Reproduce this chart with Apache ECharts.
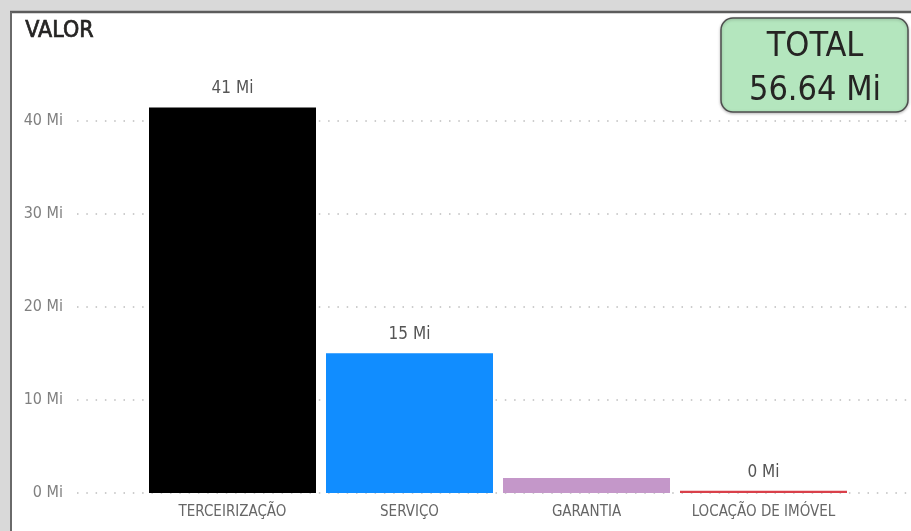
<!DOCTYPE html>
<html>
<head>
<meta charset="utf-8">
<script src="https://cdn.jsdelivr.net/npm/echarts@6/dist/echarts.min.js"></script>
<style>
  html, body { margin: 0; padding: 0; background: #d9d9d9; }
  #chart { width: 911px; height: 531px; }
</style>
</head>
<body>
<div id="chart"></div>
<script>
// Values in millions (Mi)
const categories = ['TERCEIRIZAÇÃO', 'SERVIÇO', 'GARANTIA', 'LOCAÇÃO DE IMÓVEL'];
const values = [41.4, 15.0, 1.6, 0.25];
const barColors = ['#000000', '#118DFF', '#C497C9', '#D9404A'];
const labelShown = [true, true, false, true];
const yTicks = [0, 10, 20, 30, 40];
const chartTitle = 'VALOR';
const totalCaption = 'TOTAL';
const totalText = '56.64 Mi';

const COND = '"DejaVu Sans Condensed", "DejaVu Sans", sans-serif';
const yMin = yTicks[0];
const yMax = yTicks[yTicks.length - 1];
const yStep = yTicks[1] - yTicks[0];

const chart = echarts.init(document.getElementById('chart'), null, { renderer: 'canvas' });

const gridTop = 120.5;
const gridBottom = 38;

const option = {
  backgroundColor: 'transparent',
  animation: false,
  grid: [
    // full-width grid carrying the value labels and dotted guide lines
    { left: 77, right: 0, top: gridTop, bottom: gridBottom, containLabel: false },
    // inner grid holding the category bars
    { left: 144, right: 59, top: gridTop, bottom: gridBottom, containLabel: false }
  ],
  xAxis: [
    { type: 'category', gridIndex: 0, data: [''], show: false },
    {
      type: 'category', gridIndex: 1, data: categories,
      axisLine: { show: false }, axisTick: { show: false },
      axisLabel: { color: '#666666', fontSize: 15, fontFamily: COND, margin: 12, interval: 0 }
    }
  ],
  yAxis: [
    {
      type: 'value', gridIndex: 0, min: yMin, max: yMax, interval: yStep,
      axisLine: { show: false }, axisTick: { show: false },
      axisLabel: {
        color: '#808080', fontSize: 16, fontFamily: COND, margin: 14,
        formatter: v => v + ' Mi'
      },
      splitLine: { show: true, lineStyle: { color: '#bdbdbd', width: 1.5, type: [1.5, 7.8] } }
    },
    {
      type: 'value', gridIndex: 1, min: yMin, max: yMax, interval: yStep,
      show: false, splitLine: { show: false }
    }
  ],
  series: [{
    type: 'bar',
    xAxisIndex: 1,
    yAxisIndex: 1,
    barWidth: 167,
    clip: false,
    data: values.map((v, i) => ({
      value: v,
      itemStyle: { color: barColors[i] },
      label: { show: labelShown[i] }
    })),
    label: {
      show: true,
      position: 'top',
      distance: 10,
      color: '#555555',
      fontSize: 17,
      fontFamily: COND,
      formatter: p => Math.round(p.value) + ' Mi'
    }
  }],
  graphic: [
    // white panel with its dark top and left edges
    { type: 'rect', z: -10, silent: true, shape: { x: 11, y: 12, width: 900, height: 519 }, style: { fill: '#ffffff' } },
    { type: 'line', z: -9, silent: true, shape: { x1: 10, y1: 12, x2: 911, y2: 12 }, style: { stroke: '#5c5c5c', lineWidth: 2.5 } },
    { type: 'line', z: -9, silent: true, shape: { x1: 11, y1: 12, x2: 11, y2: 531 }, style: { stroke: '#6a6a6a', lineWidth: 2 } },
    {
      type: 'text', left: 25, top: 19, silent: true,
      style: { text: chartTitle, fontSize: 23, fontFamily: COND, fill: '#252423', stroke: '#252423', lineWidth: 0.7 }
    },
    {
      type: 'group', silent: true, z: 20,
      children: [
        {
          type: 'rect',
          shape: { x: 721, y: 18, width: 187, height: 94, r: 12 },
          style: { fill: '#B4E6BE', stroke: '#4d4d4d', lineWidth: 1.5, shadowBlur: 3, shadowColor: 'rgba(0,0,0,0.25)', shadowOffsetY: 1 }
        },
        {
          type: 'text', x: 815, y: 47,
          style: { text: totalCaption, fontSize: 34, fontFamily: COND, fill: '#252423', align: 'center', verticalAlign: 'middle' }
        },
        {
          type: 'text', x: 815, y: 91,
          style: { text: totalText, fontSize: 34, fontFamily: COND, fill: '#252423', align: 'center', verticalAlign: 'middle' }
        }
      ]
    }
  ]
};

chart.setOption(option);
</script>
</body>
</html>
